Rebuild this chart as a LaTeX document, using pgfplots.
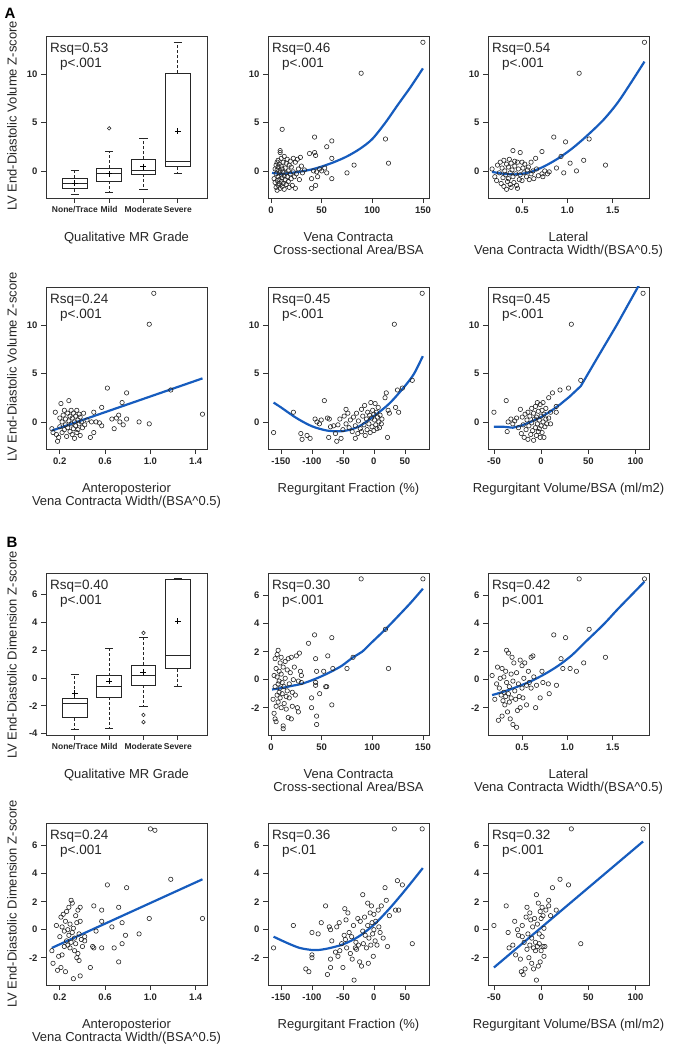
\documentclass[border=0pt]{standalone}
\usepackage{fontspec}
\setmainfont{Liberation Sans}
\usepackage{pgfplots}
\pgfplotsset{compat=1.18}
\usepgfplotslibrary{statistics}
\definecolor{fitblue}{RGB}{22,92,190}
\pgfplotsset{
 panel/.style={scale only axis, width=161pt, height=162pt, anchor=south west,
   axis line style={black!80,line width=0.7pt},
   tick align=outside, tick pos=left, major tick length=5pt,
   every tick/.style={black!80,line width=0.7pt},
   ticklabel style={font=\bfseries\fontsize{9.5}{10}\selectfont, text=black!85},
   xlabel style={at={(axis description cs:0.5,0)}, anchor=north, yshift=-34pt, align=center, font=\fontsize{13}{13}\selectfont, inner sep=0pt, text=black!85},
   clip=true},
 Aaxis/.style={ymin=-2.8,ymax=13.95, ytick={0,5,10}, yticklabels={0,5,10}},
 Baxis/.style={ymin=-3.95,ymax=7.62, ytick={-2,0,2,4,6}, yticklabels={-2,0,2,4,6}},
 pts/.style={only marks, mark=o, mark size=2.2pt, black!85, mark options={line width=0.6pt}},
 fit/.style={fitblue, line width=2.2pt, no marks},
 boxplot/draw direction=y,
 boxplot/every whisker/.style={dash pattern=on 3pt off 2pt},
 bx/.style={black!85, line width=0.7pt},
 meanpt/.style={only marks, mark=+, mark size=3pt, black, mark options={line width=0.8pt}},
 cat/.style={xticklabel style={font=\bfseries\fontsize{8.5}{9}\selectfont}},
}
\newcommand{\rsq}[2]{%
 \node[anchor=north west, inner sep=0pt, font=\fontsize{13.5}{14}\selectfont, text=black!85, xshift=4pt, yshift=-6.5pt] at (rel axis cs:0,1) {Rsq=#1};
 \node[anchor=north west, inner sep=0pt, font=\fontsize{13.5}{14}\selectfont, text=black!85, xshift=14pt, yshift=-21.5pt] at (rel axis cs:0,1) {p<#2};}
\begin{document}
\begin{tikzpicture}
% ================= A row 1 =================
\begin{axis}[panel, Aaxis, cat, at={(46pt,852pt)}, xmin=0.16, xmax=4.85, xtick={1,2,3,4},
  xticklabels={None/Trace,Mild,Moderate,Severe},
  xlabel={Qualitative MR Grade}]
\addplot[bx, boxplot prepared={draw position=1, lower whisker=-2.4, lower quartile=-1.85, median=-1.33, upper quartile=-0.77, upper whisker=0.1, box extend=0.72, whisker extend=0}] coordinates {};
\addplot[bx, boxplot prepared={draw position=2, lower whisker=-2.2, lower quartile=-1.05, median=-0.3, upper quartile=0.3, upper whisker=2.0, box extend=0.72, whisker extend=0}] coordinates {};
\addplot[bx, boxplot prepared={draw position=3, lower whisker=-1.9, lower quartile=-0.35, median=0.05, upper quartile=1.2, upper whisker=3.4, box extend=0.72, whisker extend=0}] coordinates {};
\addplot[bx, boxplot prepared={draw position=4, lower whisker=-0.3, lower quartile=0.45, median=0.95, upper quartile=10.1, upper whisker=13.3, box extend=0.72, whisker extend=0}] coordinates {};
\addplot[bx] coordinates {(0.88,-2.4) (1.12,-2.4)};
\addplot[bx] coordinates {(0.88,0.1) (1.12,0.1)};
\addplot[bx] coordinates {(1.88,-2.2) (2.12,-2.2)};
\addplot[bx] coordinates {(1.88,2.0) (2.12,2.0)};
\addplot[bx] coordinates {(2.88,-1.9) (3.12,-1.9)};
\addplot[bx] coordinates {(2.88,3.4) (3.12,3.4)};
\addplot[bx] coordinates {(3.88,-0.3) (4.12,-0.3)};
\addplot[bx] coordinates {(3.88,13.3) (4.12,13.3)};
\addplot[meanpt] coordinates {(1,-1.26) (2,-0.3) (3,0.45) (4,4.1)};
\addplot[pts, mark size=1.8pt] coordinates {(2,4.4)};
\rsq{0.53}{.001}
\end{axis}
\begin{axis}[panel, Aaxis, at={(268pt,852pt)}, xmin=-3, xmax=156, xtick={0,50,100,150}, xticklabels={0,50,100,150},
  xlabel={Vena Contracta\\Cross-sectional Area/BSA}]
\addplot[pts] coordinates {(3,-0.8) (4,-1.2) (4,0.2) (5,-1.7) (5,-0.3) (5,0.6) (6,-2.0) (6,-1.0) (6,0.1) (6,0.9) (7,-1.5) (7,-0.6) (7,0.4) (7,1.1) (8,-1.3) (8,-0.2) (8,0.7) (8,-0.9) (9,-1.8) (9,0.0) (9,1.9) (9,2.1) (10,-1.1) (10,-0.4) (10,0.5) (10,1.3) (11,-1.6) (11,4.3) (11,-0.7) (11,0.2) (12,-0.1) (12,0.9) (12,-1.3) (13,-0.5) (13,1.5) (13,-1.9) (14,0.3) (14,-0.9) (15,0.8) (15,-0.2) (15,-1.4) (16,1.2) (16,-0.6) (17,0.0) (17,-1.1) (18,0.6) (18,-1.7) (19,1.0) (19,-0.3) (20,-0.8) (20,0.4) (21,-1.5) (22,1.3) (22,-0.1) (23,-0.6) (24,0.9) (24,-1.8) (25,-0.3) (26,1.2) (27,0.2) (28,-0.9) (29,1.4) (30,0.5) (31,-0.2) (33,0.1) (38,1.8) (40,-0.8) (40,-1.8) (42,0.0) (43,3.5) (43,1.9) (44,1.6) (44,-1.5) (45,-0.1) (46,-0.6) (48,0.2) (50,0.0) (53,0.3) (55,-0.2) (55,2.5) (60,3.1) (60,1.3) (60,-0.8) (75,-0.2) (82,0.6) (89,10.1) (113,3.3) (116,0.8) (150,13.3)};
\addplot[fit, smooth] coordinates {(1,-0.2) (10,-0.3) (20,-0.2) (30,-0.05) (40,0.15) (50,0.45) (62,0.9) (75,1.5) (88,2.3) (100,3.3) (113,5.0) (125,6.8) (138,8.7) (150,10.6)};
\rsq{0.46}{.001}
\end{axis}
\begin{axis}[panel, Aaxis, at={(488pt,852pt)}, xmin=0.125, xmax=1.9, xtick={0.5,1,1.5}, xticklabels={0.5,1.0,1.5},
  xlabel={Lateral\\Vena Contracta Width/(BSA\textasciicircum0.5)}]
\addplot[pts] coordinates {(0.17,0.2) (0.2,-0.6) (0.22,-1.0) (0.23,0.6) (0.25,-0.2) (0.26,0.9) (0.27,-1.3) (0.28,0.3) (0.29,-0.7) (0.3,1.1) (0.3,-1.6) (0.31,0.0) (0.32,-0.4) (0.33,0.7) (0.33,-1.9) (0.34,-1.1) (0.35,0.4) (0.35,-0.8) (0.36,1.2) (0.37,-0.2) (0.37,-1.4) (0.38,0.8) (0.38,-1.7) (0.39,0.1) (0.4,2.1) (0.4,-0.6) (0.41,-1.2) (0.42,0.5) (0.42,1.0) (0.43,-0.3) (0.44,-1.5) (0.45,-1.8) (0.45,0.9) (0.46,0.2) (0.47,-0.9) (0.48,1.9) (0.48,-0.4) (0.5,0.9) (0.5,-1.0) (0.51,0.3) (0.52,-0.2) (0.53,0.7) (0.55,-0.6) (0.56,0.1) (0.57,0.4) (0.58,-0.9) (0.6,0.9) (0.6,-0.3) (0.62,0.0) (0.63,-0.8) (0.65,1.3) (0.66,0.2) (0.68,-0.5) (0.72,2.0) (0.72,-0.3) (0.73,-0.6) (0.75,0.0) (0.78,-0.3) (0.8,-0.1) (0.85,3.5) (0.88,0.3) (0.93,1.5) (0.96,-0.2) (0.98,3.0) (1.03,0.8) (1.1,0.0) (1.13,10.1) (1.18,1.1) (1.24,3.3) (1.42,0.6) (1.85,13.3)};
\addplot[fit, smooth] coordinates {(0.17,-0.1) (0.3,-0.3) (0.45,-0.35) (0.6,-0.1) (0.75,0.5) (0.9,1.3) (1.05,2.3) (1.2,3.5) (1.39,5.2) (1.55,7.0) (1.7,9.1) (1.85,11.3)};
\rsq{0.54}{.001}
\end{axis}
% ================= A row 2 =================
\begin{axis}[panel, Aaxis, at={(46pt,601pt)}, xmin=0.078, xmax=1.5, xtick={0.2,0.6,1.0,1.4}, xticklabels={0.2,0.6,1.0,1.4},
  xlabel={Anteroposterior\\Vena Contracta Width/(BSA\textasciicircum0.5)}]
\addplot[pts] coordinates {(0.13,-0.7) (0.14,-1.1) (0.16,1.0) (0.17,-1.3) (0.18,-2.0) (0.19,-1.6) (0.2,0.4) (0.2,-0.5) (0.21,1.9) (0.22,-1.1) (0.22,0.0) (0.23,0.7) (0.24,-0.8) (0.24,1.2) (0.25,-0.3) (0.25,0.3) (0.26,-1.5) (0.27,0.9) (0.27,-0.6) (0.28,2.2) (0.28,0.1) (0.29,-1.0) (0.29,0.6) (0.3,-0.2) (0.3,1.2) (0.31,-1.3) (0.31,0.4) (0.32,-0.7) (0.32,0.9) (0.33,-1.7) (0.33,0.0) (0.34,0.6) (0.34,-0.4) (0.35,1.2) (0.35,-1.1) (0.36,0.2) (0.36,-0.8) (0.37,0.8) (0.37,-0.2) (0.38,-1.4) (0.38,0.5) (0.39,0.0) (0.4,-0.6) (0.41,0.9) (0.42,-0.3) (0.44,0.2) (0.47,-1.6) (0.48,0.0) (0.5,-1.1) (0.5,1.0) (0.52,0.0) (0.55,-0.1) (0.57,1.5) (0.57,-0.4) (0.62,3.5) (0.66,0.3) (0.68,-0.7) (0.7,0.4) (0.72,0.7) (0.73,0.0) (0.75,2.0) (0.76,-0.3) (0.79,3.0) (0.79,0.3) (0.9,0.0) (0.99,10.1) (0.99,-0.2) (1.03,13.3) (1.18,3.3) (1.46,0.8)};
\addplot[fit] coordinates {(0.13,-0.9) (1.46,4.5)};
\rsq{0.24}{.001}
\end{axis}
\begin{axis}[panel, Aaxis, at={(268pt,601pt)}, xmin=-171, xmax=89, xtick={-150,-100,-50,0,50}, xticklabels={-150,-100,-50,0,50},
  xlabel={Regurgitant Fraction (\%)}]
\addplot[pts] coordinates {(-162,-1.1) (-130,1.0) (-118,-1.2) (-116,-1.8) (-108,-1.4) (-103,-1.7) (-95,0.3) (-92,0.0) (-88,-0.2) (-80,2.2) (-85,0.2) (-75,0.4) (-73,-1.6) (-72,0.3) (-70,-0.5) (-65,-0.4) (-62,-1.2) (-60,-2.0) (-58,-0.3) (-55,0.3) (-53,-1.7) (-50,-0.8) (-48,0.6) (-45,1.3) (-45,-0.2) (-42,0.9) (-40,-0.6) (-38,0.2) (-35,-1.0) (-33,0.5) (-30,-0.4) (-30,-1.7) (-28,0.9) (-26,-1.2) (-25,0.1) (-22,-0.7) (-20,1.3) (-20,-1.0) (-18,0.6) (-16,-0.3) (-15,1.7) (-14,-1.4) (-12,0.3) (-11,-0.8) (-10,1.0) (-8,-0.2) (-7,0.7) (-6,-1.1) (-5,2.0) (-4,0.4) (-3,-0.5) (-2,1.2) (0,-0.9) (0,0.8) (1,0.2) (2,1.9) (3,-0.3) (4,1.0) (5,-0.7) (6,0.5) (7,1.5) (8,0.0) (9,-0.6) (10,0.7) (12,-0.2) (13,0.3) (18,2.5) (20,3.0) (22,-1.6) (23,1.2) (25,0.9) (33,10.1) (35,1.5) (38,3.3) (40,1.0) (46,3.5) (62,4.3) (78,13.3)};
\addplot[fit, smooth] coordinates {(-162,2.0) (-150,1.5) (-125,0.4) (-100,-0.45) (-75,-0.9) (-50,-0.95) (-25,-0.5) (0,0.6) (25,1.9) (50,3.7) (65,5.0) (79,6.8)};
\rsq{0.45}{.001}
\end{axis}
\begin{axis}[panel, Aaxis, at={(488pt,601pt)}, xmin=-56.3, xmax=114.3, xtick={-50,0,50,100}, xticklabels={-50,0,50,100},
  xlabel={Regurgitant Volume/BSA (ml/m2)}]
\addplot[pts] coordinates {(-50,1.0) (-37,2.2) (-36,-1.0) (-35,0.0) (-32,0.3) (-30,-0.2) (-28,0.1) (-26,0.4) (-24,-0.6) (-22,1.3) (-21,-1.2) (-20,0.5) (-19,-0.3) (-18,-1.6) (-17,0.8) (-16,-0.8) (-15,0.2) (-14,-1.8) (-14,1.0) (-13,-0.4) (-12,0.6) (-11,-1.3) (-10,1.4) (-10,-0.1) (-9,-0.9) (-8,0.9) (-8,-1.9) (-7,0.3) (-6,-0.6) (-6,1.6) (-5,-1.4) (-5,0.5) (-4,2.0) (-4,-0.2) (-3,-1.0) (-3,1.1) (-2,0.2) (-2,-0.7) (-1,1.8) (-1,-1.6) (0,0.6) (0,-0.4) (1,1.2) (1,-1.1) (2,0.0) (2,2.0) (3,-1.6) (3,0.8) (4,-0.5) (5,1.4) (5,0.3) (6,-0.2) (8,2.5) (8,0.4) (10,-0.2) (10,1.0) (12,3.0) (16,1.6) (16,1.0) (20,3.3) (29,3.5) (32,10.1) (42,4.3) (108,13.3)};
\addplot[fit] coordinates {(-50,-0.5) (-40,-0.5) (-30,-0.6) (-20,-0.35) (-10,0.05) (0,0.5) (10,1.1) (20,1.8) (30,2.6) (42,3.7) (60,6.7) (80,10.0) (96,12.8) (108,14.9)};
\rsq{0.45}{.001}
\end{axis}
% ================= B row 1 =================
\begin{axis}[panel, Baxis, cat, at={(46pt,315pt)}, ymin=-4.1, ymax=7.55, ytick={-4,-2,0,2,4,6}, yticklabels={-4,-2,0,2,4,6},
  xmin=0.16, xmax=4.85, xtick={1,2,3,4},
  xticklabels={None/Trace,Mild,Moderate,Severe},
  xlabel={Qualitative MR Grade}]
\addplot[bx, boxplot prepared={draw position=1, lower whisker=-3.66, lower quartile=-2.86, median=-1.84, upper quartile=-1.48, upper whisker=0.24, box extend=0.72, whisker extend=0}] coordinates {};
\addplot[bx, boxplot prepared={draw position=2, lower whisker=-3.63, lower quartile=-1.36, median=-0.6, upper quartile=0.17, upper whisker=2.1, box extend=0.72, whisker extend=0}] coordinates {};
\addplot[bx, boxplot prepared={draw position=3, lower whisker=-2.06, lower quartile=-0.51, median=0.17, upper quartile=0.94, upper whisker=2.9, box extend=0.72, whisker extend=0}] coordinates {};
\addplot[bx, boxplot prepared={draw position=4, lower whisker=-0.6, lower quartile=0.68, median=1.62, upper quartile=7.12, upper whisker=7.19, box extend=0.72, whisker extend=0}] coordinates {};
\addplot[bx] coordinates {(0.88,-3.66) (1.12,-3.66)};
\addplot[bx] coordinates {(0.88,0.24) (1.12,0.24)};
\addplot[bx] coordinates {(1.88,-3.63) (2.12,-3.63)};
\addplot[bx] coordinates {(1.88,2.1) (2.12,2.1)};
\addplot[bx] coordinates {(2.88,-2.06) (3.12,-2.06)};
\addplot[bx] coordinates {(2.88,2.9) (3.12,2.9)};
\addplot[bx] coordinates {(3.88,-0.6) (4.12,-0.6)};
\addplot[bx] coordinates {(3.88,7.19) (4.12,7.19)};
\addplot[meanpt] coordinates {(1,-1.11) (2,-0.24) (3,0.41) (4,4.09)};
\addplot[pts, mark size=1.8pt] coordinates {(3,3.24) (3,-2.66) (3,-3.17)};
\rsq{0.40}{.001}
\end{axis}
\begin{axis}[panel, Baxis, at={(268pt,315pt)}, xmin=-3, xmax=156, xtick={0,50,100,150}, xticklabels={0,50,100,150},
  xlabel={Vena Contracta\\Cross-sectional Area/BSA}]
\addplot[pts] coordinates {(2,-1.4) (3,-2.4) (3,0.3) (4,-2.8) (4,-0.5) (4,1.5) (5,-1.9) (5,0.8) (5,-3.0) (6,-1.1) (6,0.2) (6,1.8) (7,-0.3) (7,-1.6) (7,2.1) (8,0.6) (8,-0.9) (8,-0.1) (9,1.2) (9,-1.3) (9,-0.6) (10,0.4) (10,-2.0) (10,1.6) (11,-0.2) (11,-1.0) (12,-3.5) (12,0.9) (12,-3.3) (13,-0.5) (13,-1.7) (14,1.3) (14,0.1) (15,-1.2) (15,-2.1) (16,0.7) (16,-0.8) (17,1.5) (17,-2.7) (18,-0.3) (18,-1.3) (19,0.5) (20,-2.8) (20,1.6) (21,-0.9) (21,-1.9) (22,0.0) (23,0.9) (24,-1.1) (25,1.7) (26,-2.0) (27,-0.1) (27,-2.3) (28,1.9) (29,0.6) (30,0.3) (30,-0.2) (37,2.6) (40,-1.3) (40,-2.0) (43,3.2) (44,1.5) (44,-0.2) (44,-0.4) (45,0.6) (45,-2.6) (45,-3.2) (48,-1.0) (52,0.6) (54,-0.5) (55,-0.5) (56,1.7) (60,3.0) (60,-1.8) (61,0.8) (75,0.8) (81,1.6) (89,7.2) (113,3.6) (116,0.8) (150,7.2)};
\addplot[fit, smooth] coordinates {(1,-0.7) (10,-0.6) (20,-0.45) (30,-0.3) (40,-0.05) (50,0.25) (60,0.6) (70,1.0) (81,1.6) (90,2.0) (100,2.7) (113,3.6) (125,4.5) (138,5.5) (150,6.5)};
\rsq{0.30}{.001}
\end{axis}
\begin{axis}[panel, Baxis, at={(488pt,315pt)}, xmin=0.125, xmax=1.9, xtick={0.5,1,1.5}, xticklabels={0.5,1.0,1.5},
  xlabel={Lateral\\Vena Contracta Width/(BSA\textasciicircum0.5)}]
\addplot[pts] coordinates {(0.17,0.3) (0.2,-1.4) (0.22,-0.3) (0.23,0.9) (0.24,-2.9) (0.25,-0.6) (0.26,0.1) (0.27,-1.1) (0.28,0.8) (0.28,-2.6) (0.29,-1.5) (0.3,0.2) (0.3,-0.9) (0.31,-1.8) (0.32,0.6) (0.32,-1.2) (0.33,2.1) (0.33,-0.2) (0.34,-2.3) (0.35,1.9) (0.35,-1.0) (0.36,-0.5) (0.36,-1.6) (0.37,-2.8) (0.38,0.4) (0.38,-1.3) (0.39,1.6) (0.4,-0.1) (0.4,-3.2) (0.41,1.2) (0.42,-0.8) (0.43,-1.4) (0.44,-3.4) (0.44,0.5) (0.45,-2.2) (0.46,-0.3) (0.47,-1.2) (0.48,1.4) (0.48,-2.0) (0.5,1.0) (0.5,-0.6) (0.51,-1.3) (0.52,0.1) (0.53,1.2) (0.55,-0.4) (0.55,-1.8) (0.57,0.6) (0.58,-0.2) (0.6,1.6) (0.6,-0.6) (0.62,1.7) (0.63,0.2) (0.65,-2.0) (0.66,-0.4) (0.7,-1.3) (0.72,0.6) (0.73,-0.2) (0.79,-0.3) (0.8,-1.0) (0.85,3.2) (0.88,-0.4) (0.93,1.5) (0.95,0.8) (0.98,3.0) (1.03,0.8) (1.1,0.6) (1.13,7.2) (1.18,1.2) (1.24,3.6) (1.42,1.6) (1.85,7.2)};
\addplot[fit, smooth] coordinates {(0.17,-1.1) (0.3,-0.85) (0.45,-0.5) (0.6,-0.1) (0.75,0.4) (0.9,1.0) (1.05,1.75) (1.2,2.7) (1.4,3.95) (1.55,5.0) (1.7,6.0) (1.85,7.0)};
\rsq{0.42}{.001}
\end{axis}
% ================= B row 2 =================
\begin{axis}[panel, Baxis, at={(46pt,65pt)}, xmin=0.078, xmax=1.5, xtick={0.2,0.6,1.0,1.4}, xticklabels={0.2,0.6,1.0,1.4},
  xlabel={Anteroposterior\\Vena Contracta Width/(BSA\textasciicircum0.5)}]
\addplot[pts] coordinates {(0.13,-1.5) (0.14,-2.4) (0.17,0.3) (0.18,-2.9) (0.19,-1.9) (0.2,-0.5) (0.21,-2.7) (0.21,0.9) (0.22,-1.8) (0.22,0.2) (0.23,1.1) (0.24,-0.1) (0.24,-1.2) (0.25,0.6) (0.25,-3.0) (0.26,-0.8) (0.26,1.3) (0.27,-1.1) (0.27,0.0) (0.28,1.6) (0.28,-0.4) (0.29,-1.3) (0.29,0.4) (0.3,2.1) (0.3,-0.9) (0.31,-0.2) (0.31,1.9) (0.32,-3.5) (0.32,0.1) (0.33,-1.5) (0.33,-0.6) (0.34,1.0) (0.34,-1.0) (0.35,-2.0) (0.35,0.5) (0.36,1.4) (0.36,-1.7) (0.37,-0.3) (0.37,-2.2) (0.38,1.6) (0.38,0.6) (0.38,-3.3) (0.39,-0.7) (0.4,-1.2) (0.42,-0.5) (0.42,-0.8) (0.47,-2.7) (0.49,-1.2) (0.5,-1.3) (0.5,1.7) (0.52,-0.1) (0.57,0.6) (0.57,1.4) (0.57,-1.3) (0.62,3.2) (0.66,0.2) (0.68,-1.3) (0.72,1.6) (0.72,-2.3) (0.75,0.5) (0.75,-1.0) (0.78,-0.4) (0.79,3.0) (0.9,-0.3) (0.99,0.8) (1.0,7.2) (1.04,7.1) (1.18,3.6) (1.46,0.8)};
\addplot[fit] coordinates {(0.13,-1.3) (1.46,3.6)};
\rsq{0.24}{.001}
\end{axis}
\begin{axis}[panel, Baxis, at={(268pt,65pt)}, xmin=-171, xmax=89, xtick={-150,-100,-50,0,50}, xticklabels={-150,-100,-50,0,50},
  xlabel={Regurgitant Fraction (\%)}]
\addplot[pts] coordinates {(-162,-1.3) (-130,0.3) (-110,-2.8) (-105,-3.0) (-100,-1.8) (-100,-2.0) (-100,-0.2) (-90,-0.3) (-85,0.5) (-78,1.7) (-75,-3.2) (-72,0.2) (-70,0.0) (-70,-2.7) (-70,-2.1) (-68,-0.8) (-62,-1.6) (-60,0.2) (-58,-1.9) (-56,0.5) (-55,-1.5) (-52,-1.0) (-50,-2.7) (-48,-0.4) (-47,1.5) (-46,-0.7) (-45,0.7) (-44,-1.3) (-42,1.2) (-40,-0.2) (-38,-1.7) (-36,-0.5) (-35,-2.1) (-33,0.3) (-32,-3.6) (-30,-1.3) (-29,-0.9) (-28,-1.4) (-26,0.8) (-25,-1.1) (-23,-2.3) (-22,0.6) (-20,-2.6) (-18,2.5) (-18,-0.1) (-17,-1.0) (-15,0.9) (-14,-0.4) (-12,-1.3) (-10,1.9) (-10,0.3) (-9,-2.4) (-8,-0.6) (-6,1.2) (-5,-1.1) (-4,1.7) (-3,0.5) (-2,-0.3) (-1,-1.9) (0,1.1) (0,0.0) (2,-0.8) (3,0.6) (5,-1.1) (7,1.4) (8,0.2) (10,-0.2) (12,1.7) (15,-0.6) (18,3.0) (20,2.1) (22,-1.2) (25,1.0) (33,7.2) (35,1.4) (38,3.5) (40,1.4) (46,3.2) (62,-1.0) (78,7.2)};
\addplot[fit, smooth] coordinates {(-162,-0.5) (-140,-0.95) (-120,-1.3) (-100,-1.45) (-90,-1.45) (-75,-1.35) (-50,-1.05) (-25,-0.5) (0,0.35) (25,1.5) (50,2.8) (79,4.4)};
\rsq{0.36}{.01}
\end{axis}
\begin{axis}[panel, Baxis, at={(488pt,65pt)}, xmin=-56.3, xmax=114.3, xtick={-50,0,50,100}, xticklabels={-50,0,50,100},
  xlabel={Regurgitant Volume/BSA (ml/m2)}]
\addplot[pts] coordinates {(-50,0.3) (-37,1.7) (-35,-0.2) (-34,-1.3) (-30,-1.1) (-28,0.6) (-27,-1.8) (-25,0.0) (-24,-0.4) (-22,-2.1) (-21,-3.0) (-20,-0.5) (-20,0.3) (-19,-3.2) (-18,-0.9) (-17,-2.8) (-16,0.9) (-15,1.6) (-15,-1.4) (-14,-0.3) (-13,-2.0) (-12,1.2) (-12,-1.1) (-11,0.7) (-10,-0.6) (-10,-2.4) (-9,0.2) (-8,-1.3) (-8,-2.8) (-7,0.8) (-6,-0.9) (-6,-1.5) (-5,2.5) (-5,-3.6) (-4,0.4) (-4,-1.2) (-3,1.9) (-3,-2.6) (-2,-0.3) (-2,-1.0) (-1,1.3) (-1,-2.3) (0,0.8) (0,-1.5) (1,1.6) (1,-0.5) (2,-1.2) (2,1.0) (3,-1.9) (3,0.1) (4,-1.2) (5,1.4) (8,2.1) (8,1.7) (10,1.0) (12,3.0) (16,1.4) (20,3.6) (29,3.2) (32,7.2) (42,-1.0) (108,7.2)};
\addplot[fit] coordinates {(-50,-2.7) (108,6.3)};
\rsq{0.32}{.001}
\end{axis}
% ================= labels =================
\node[font=\bfseries\fontsize{15}{15}\selectfont] at (10pt,1037pt) {A};
\node[font=\bfseries\fontsize{15}{15}\selectfont] at (12pt,508pt) {B};
\node[rotate=90, font=\fontsize{13}{13}\selectfont, text=black!85] at (12pt,934pt) {LV End-Diastolic Volume Z-score};
\node[rotate=90, font=\fontsize{13}{13}\selectfont, text=black!85] at (12pt,683pt) {LV End-Diastolic Volume Z-score};
\node[rotate=90, font=\fontsize{13}{13}\selectfont, text=black!85] at (12pt,395pt) {LV End-Diastolic Dimension Z-score};
\node[rotate=90, font=\fontsize{13}{13}\selectfont, text=black!85] at (12pt,146pt) {LV End-Diastolic Dimension Z-score};
\pgfresetboundingbox
\path (0,0) rectangle (678pt,1050pt);
\end{tikzpicture}
\end{document}
